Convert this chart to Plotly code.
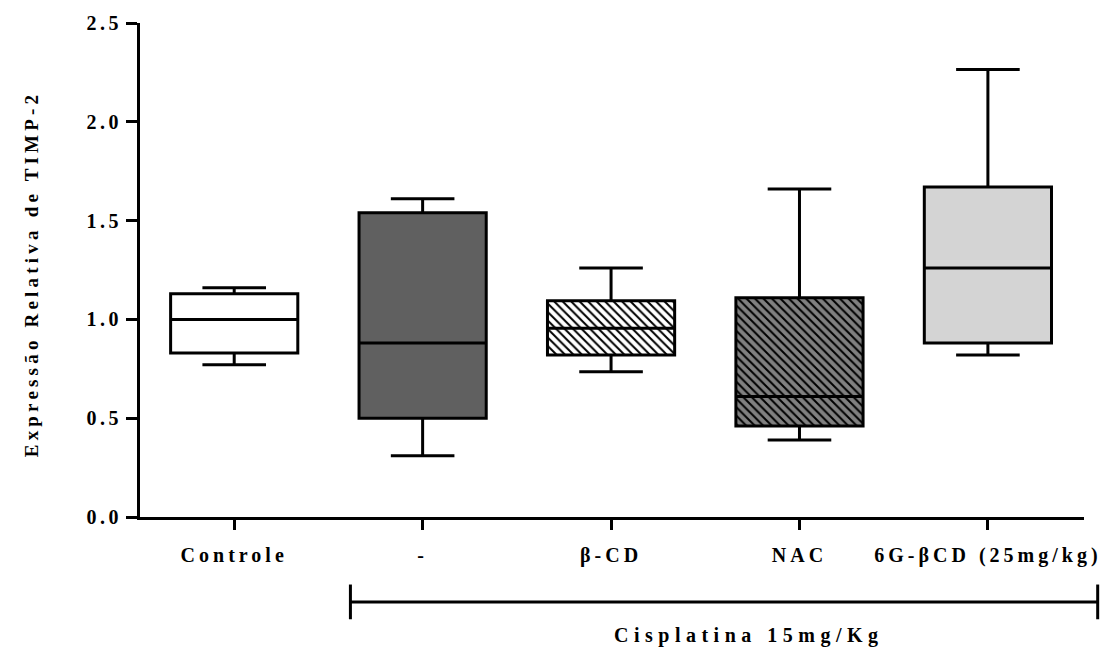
import plotly.graph_objects as go

# Groups and five-number summaries (relative TIMP-2 expression)
categories = ["Controle", "-", "β-CD", "NAC", "6G-βCD (25mg/kg)"]
lower_whisker = [0.77, 0.31, 0.735, 0.39, 0.82]
q1_values = [0.83, 0.50, 0.82, 0.46, 0.88]
median_values = [1.00, 0.88, 0.955, 0.61, 1.26]
q3_values = [1.13, 1.54, 1.095, 1.11, 1.67]
upper_whisker = [1.16, 1.61, 1.26, 1.66, 2.265]

y_tick_values = [0.0, 0.5, 1.0, 1.5, 2.0, 2.5]
y_tick_labels = ["0.0", "0.5", "1.0", "1.5", "2.0", "2.5"]
y_title = "Expressão Relativa de TIMP-2"
group_label = "Cisplatina 15mg/Kg"

# box fills and hatching
fill_colors = ["#ffffff", "#606060", "#ffffff", "#808080", "#d4d4d4"]
hatch_shapes = ["", "", "\\", "\\", ""]

FONT = "Liberation Serif"
BOX_W = 0.675


def spaced(text, px):
    return f'<span style="letter-spacing:{px}px">{text}</span>'


fig = go.Figure()

# box bodies (with hatch patterns) drawn as floating bars, one per group
for cat, lo, hi, fc, hs in zip(categories, q1_values, q3_values,
                               fill_colors, hatch_shapes):
    marker = dict(color=fc, line=dict(width=0))
    if hs:
        marker["pattern"] = dict(shape=hs, fgcolor="#000000", bgcolor=fc,
                                 size=6, solidity=0.33, fillmode="replace")
    fig.add_trace(go.Bar(
        x=[cat], base=[lo], y=[hi - lo], width=BOX_W,
        marker=marker, hoverinfo="skip", showlegend=False,
    ))

# outlines, medians and whiskers
fig.add_trace(go.Box(
    x=categories,
    q1=q1_values,
    median=median_values,
    q3=q3_values,
    lowerfence=lower_whisker,
    upperfence=upper_whisker,
    width=BOX_W,
    whiskerwidth=0.5,
    fillcolor="rgba(0,0,0,0)",
    line=dict(color="#000000", width=3),
    boxpoints=False,
    showlegend=False,
))

fig.update_layout(
    width=1118,
    height=651,
    margin=dict(l=139.5, r=34, t=19.5, b=134),
    paper_bgcolor="#ffffff",
    plot_bgcolor="#ffffff",
    barmode="overlay",
    boxmode="overlay",
    font=dict(family=FONT, color="#000000", weight="bold"),
    showlegend=False,
)

fig.update_xaxes(
    type="category",
    range=[-0.5, 4.51],
    tickvals=categories,
    ticktext=[spaced(c, 4) for c in categories],
    tickfont=dict(family=FONT, size=20, color="#000000", weight="bold"),
    ticklabelstandoff=8,
    ticks="outside",
    ticklen=10,
    tickwidth=3,
    tickcolor="#000000",
    showline=True,
    linewidth=3,
    linecolor="#000000",
    showgrid=False,
    zeroline=False,
)

fig.update_yaxes(
    range=[0, 2.5],
    tickvals=y_tick_values,
    ticktext=[spaced(t, 3.5) for t in y_tick_labels],
    tickfont=dict(family=FONT, size=20, color="#000000", weight="bold"),
    ticks="outside",
    ticklen=11,
    tickwidth=3,
    tickcolor="#000000",
    showline=True,
    linewidth=3,
    linecolor="#000000",
    showgrid=False,
    zeroline=False,
)

# rotated y-axis title
fig.add_annotation(
    text=spaced(y_title, 4.2),
    xref="paper", yref="paper",
    x=-0.1149, y=0.4925,
    textangle=-90,
    showarrow=False,
    xanchor="center", yanchor="middle",
    font=dict(family=FONT, size=19, color="#000000", weight="bold"),
)

# bracket grouping the cisplatin-treated groups
bracket_y = -0.1723
fig.add_shape(type="line", xref="paper", yref="paper",
              x0=0.2229, x1=1.0145, y0=bracket_y, y1=bracket_y,
              line=dict(color="#000000", width=3))
for bx in (0.2229, 1.0145):
    fig.add_shape(type="line", xref="paper", yref="paper",
                  x0=bx, x1=bx, y0=-0.1367, y1=-0.207,
                  line=dict(color="#000000", width=3))

fig.add_annotation(
    text=spaced(group_label, 5.5),
    xref="paper", yref="paper",
    x=0.645, y=-0.239,
    showarrow=False,
    xanchor="center", yanchor="middle",
    font=dict(family=FONT, size=20, color="#000000", weight="bold"),
)

fig.write_html("out.html")
